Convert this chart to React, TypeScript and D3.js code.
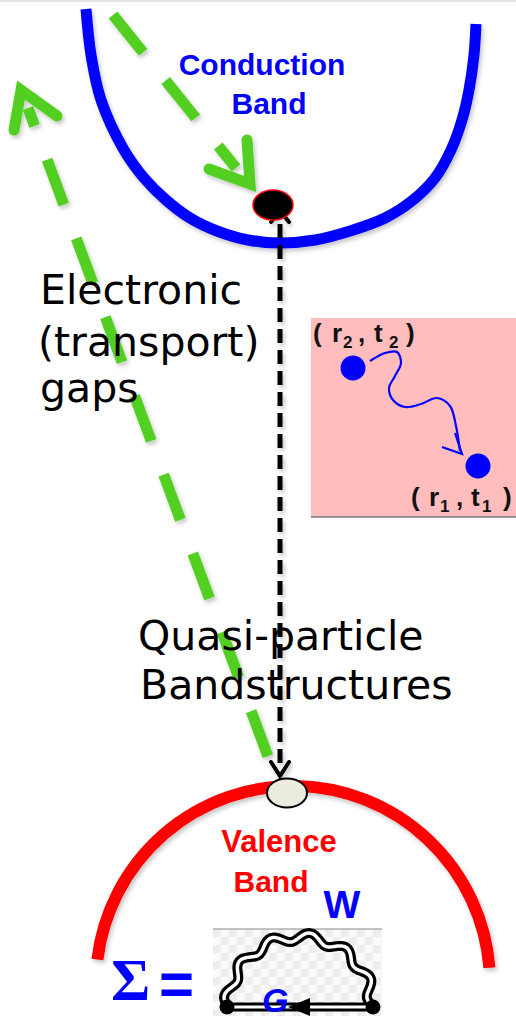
import * as d3 from "d3";

type Pt = [number, number];

// conduction band (blue U)
const CONDUCTION_BAND: Pt[] = [
  [86, 9], [91, 55], [101, 100], [124, 150], [144, 178], [166, 200], [190, 218],
  [217, 231], [248, 240], [280, 243], [315, 240], [350, 231], [385, 218],
  [413, 200], [435, 178], [451, 150], [462, 120], [469, 90], [474, 55], [476, 24],
];

// valence band (red arc)
const VALENCE_CENTER: Pt = [293, 983];
const VALENCE_RADIUS = 197;
const VALENCE_ENDS: Pt[] = [[101, 960], [486, 968]];

// green dashed arrows: shaft, then arrow head (wing, tip, wing)
const EXCITE_SHAFT: Pt[] = [[113, 15], [236, 168]];
const EXCITE_HEAD: Pt[] = [[209, 169], [250, 184], [247, 140]];
const RETURN_SHAFT: Pt[] = [[28, 108], [270, 762]];
const RETURN_HEAD: Pt[] = [[14, 130], [21, 90], [57, 116]];

// black dashed gap arrow
const GAP_LINE: Pt[] = [[280, 224], [280, 770]];
const GAP_HEAD_TOP: Pt[] = [[271, 222], [280, 211], [289, 222]];
const GAP_HEAD_BOTTOM: Pt[] = [[271, 762], [280, 776], [289, 762]];

// propagator inset
const PROPAGATOR_WAVE: Pt[] = [
  [370, 361], [385, 353], [397, 352], [401, 363], [395, 376], [389, 388],
  [393, 400], [405, 407], [421, 404], [437, 398], [450, 406], [456, 426], [460, 451],
];
const PROPAGATOR_HEAD: Pt[] = [[442, 447], [462, 454], [455, 433]];
const POINTS: Pt[] = [[353, 368], [478, 466]];

const BLACK_LABELS = [
  { text: "Electronic", x: 40, y: 304 },
  { text: "(transport)", x: 38, y: 356 },
  { text: "gaps", x: 40, y: 402 },
  { text: "Quasi-particle", x: 138, y: 650 },
  { text: "Bandstructures", x: 140, y: 699 },
];

const line = d3.line<Pt>();
const smooth = d3.line<Pt>().curve(d3.curveCatmullRom.alpha(0.5));

const GREEN = "#53cf20";

function valencePath() {
  const [cx, cy] = VALENCE_CENTER;
  const [a, b] = VALENCE_ENDS;
  const a0 = Math.atan2(a[1] - cy, a[0] - cx);
  const a1 = Math.atan2(b[1] - cy, b[0] - cx);
  const p = d3.path();
  p.moveTo(cx + VALENCE_RADIUS * Math.cos(a0), cy + VALENCE_RADIUS * Math.sin(a0));
  p.arc(cx, cy, VALENCE_RADIUS, a0, a1, false);
  return p.toString();
}

// wiggly line for the screened interaction W
function wavyArc(cx: number, cy: number, rx: number, ry: number, amp: number, waves: number) {
  const pts: Pt[] = [];
  const n = 240;
  for (let i = 0; i <= n; i++) {
    const t = Math.PI - (Math.PI * i) / n;
    const w = amp * Math.sin(waves * (Math.PI - t) * 2);
    pts.push([cx + (rx + w) * Math.cos(t), cy - (ry + w) * Math.sin(t)]);
  }
  return smooth(pts) as string;
}

const Sub = ({ x, y, children }: { x: number; y: number; children: string }) => (
  <tspan x={x} y={y + 6} fontSize={17}>{children}</tspan>
);

export default function App() {
  const wave = wavyArc(300, 1006, 72, 69, 4.5, 6);
  return (
    <svg
      width={516}
      height={1016}
      style={{ position: "absolute", left: 0, top: 0, background: "#fff" }}
    >
      <defs>
        <filter id="shadow" x="-20%" y="-20%" width="140%" height="140%">
          <feDropShadow dx={2} dy={3} stdDeviation={2} floodColor="#000" floodOpacity={0.22} />
        </filter>
        <pattern id="checker" width={16} height={16} patternUnits="userSpaceOnUse" x={213} y={929}>
          <rect width={16} height={16} fill="#fbfbfb" />
          <rect width={8} height={8} fill="#eeeeee" />
          <rect x={8} y={8} width={8} height={8} fill="#eeeeee" />
        </pattern>
      </defs>

      <rect x={0} y={0} width={516} height={2} fill="#e4e4e4" />

      {/* propagator inset */}
      <rect x={311} y={318} width={205} height={199} fill="#ffbdbd" />
      <line x1={311} x2={516} y1={517} y2={517} stroke="#777" strokeWidth={1.5} />
      {POINTS.map(([x, y], i) => (
        <circle key={i} cx={x} cy={y} r={12.5} fill="#0000ff" />
      ))}
      <path d={smooth(PROPAGATOR_WAVE) as string} fill="none" stroke="#0000ff" strokeWidth={2.2} />
      <path d={line(PROPAGATOR_HEAD) as string} fill="none" stroke="#0000ff" strokeWidth={2.2} />
      <text fontFamily="Liberation Sans, Arial, sans-serif" fontWeight="bold" fontSize={26} fill="#111">
        <tspan x={313} y={342}>(</tspan>
        <tspan x={332} y={342}>r</tspan>
        <Sub x={343} y={342}>2</Sub>
        <tspan x={358} y={342}>,</tspan>
        <tspan x={374} y={342}>t</tspan>
        <Sub x={389} y={342}>2</Sub>
        <tspan x={406} y={342}>)</tspan>
      </text>
      <text fontFamily="Liberation Sans, Arial, sans-serif" fontWeight="bold" fontSize={26} fill="#111">
        <tspan x={411} y={506}>(</tspan>
        <tspan x={429} y={506}>r</tspan>
        <Sub x={440} y={506}>1</Sub>
        <tspan x={456} y={506}>,</tspan>
        <tspan x={471} y={506}>t</tspan>
        <Sub x={482} y={506}>1</Sub>
        <tspan x={503} y={506}>)</tspan>
      </text>

      {/* bands */}
      <path d={smooth(CONDUCTION_BAND) as string} fill="none" stroke="#0000ff" strokeWidth={11} filter="url(#shadow)" />
      <path d={valencePath()} fill="none" stroke="#ff0000" strokeWidth={12} filter="url(#shadow)" />

      {/* green dashed arrows */}
      <g stroke={GREEN} fill="none" strokeWidth={11} filter="url(#shadow)">
        <path d={line(EXCITE_SHAFT) as string} strokeDasharray="48 36" />
        <path d={line(EXCITE_HEAD) as string} strokeLinecap="round" />
        <path d={line(RETURN_SHAFT) as string} strokeDasharray="48 36" strokeDashoffset={29} />
        <path d={line(RETURN_HEAD) as string} strokeLinecap="round" />
      </g>

      {/* black dashed gap arrow */}
      <g stroke="#000" fill="none" filter="url(#shadow)">
        <path d={line(GAP_LINE) as string} strokeWidth={5} strokeDasharray="14 7" />
        <path d={line(GAP_HEAD_TOP) as string} strokeWidth={4} strokeLinecap="round" />
        <path d={line(GAP_HEAD_BOTTOM) as string} strokeWidth={4} strokeLinecap="round" />
      </g>

      <ellipse cx={273} cy={205} rx={20} ry={15} fill="#000" stroke="#ff0000" strokeWidth={1.5} />
      <ellipse cx={287} cy={793} rx={20} ry={14.5} fill="#ecebe0" stroke="#000" strokeWidth={2} />

      {/* coloured labels */}
      <g fontFamily="Liberation Sans, Arial, sans-serif" fontWeight="bold" textAnchor="middle">
        <text x={262} y={75} fontSize={30} fill="#0000ff">Conduction</text>
        <text x={269} y={114} fontSize={30} fill="#0000ff">Band</text>
        <text x={279} y={852} fontSize={31} fill="#ff0000">Valence</text>
        <text x={271} y={892} fontSize={30} fill="#ff0000">Band</text>
        <text x={342} y={918} fontSize={39} fill="#0000ff">W</text>
      </g>

      {/* black labels */}
      <g fontFamily="DejaVu Sans, sans-serif" fontSize={41} fill="#000">
        {BLACK_LABELS.map((d) => (
          <text key={d.text} x={d.x} y={d.y}>{d.text}</text>
        ))}
      </g>

      {/* self energy */}
      <text x={111} y={1000} fontFamily="Liberation Serif, serif" fontWeight="bold" fontSize={60} fill="#0000ff">Σ</text>
      <text x={159} y={1004} fontFamily="Liberation Sans, sans-serif" fontWeight="bold" fontSize={60} fill="#0000ff">=</text>

      <rect x={213} y={929} width={169} height={87} fill="url(#checker)" />
      <line x1={213} x2={382} y1={929} y2={929} stroke="#888" strokeWidth={1} />
      <path d={wave} fill="none" stroke="#000" strokeWidth={10} />
      <path d={wave} fill="none" stroke="#fff" strokeWidth={3.5} />
      <line x1={227} x2={373} y1={1007} y2={1007} stroke="#000" strokeWidth={9} />
      <line x1={227} x2={373} y1={1007} y2={1007} stroke="#fff" strokeWidth={3} />
      <circle cx={227} cy={1007} r={7.5} fill="#000" />
      <circle cx={373} cy={1007} r={7.5} fill="#000" />
      <path d="M288,1007 L310,998 L310,1016 Z" fill="#000" />
      <text x={262} y={1012} fontFamily="Liberation Sans, sans-serif" fontWeight="bold" fontStyle="italic" fontSize={34} fill="#0000ff">G</text>
    </svg>
  );
}
